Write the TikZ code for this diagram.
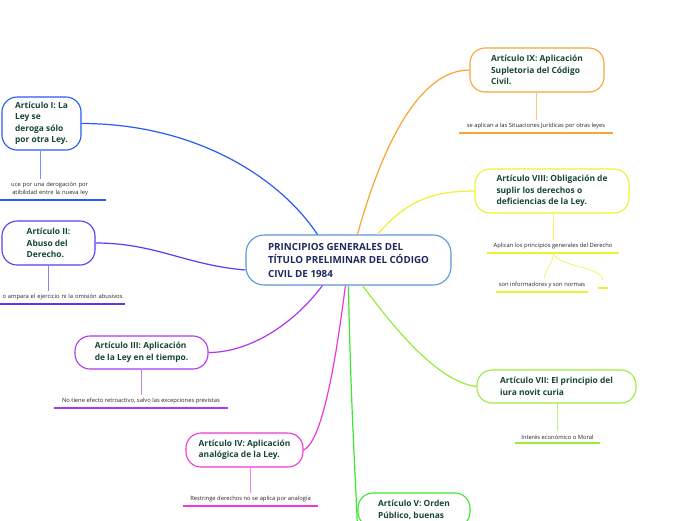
\documentclass[tikz,border=0pt]{standalone}
\usepackage{fontspec}
\setmainfont{Open Sans}
\usepackage{xcolor}
\usepackage{tikz}

\definecolor{titletxt}{RGB}{24,70,52}
\definecolor{maintxt}{RGB}{30,42,92}
\definecolor{cmain}{RGB}{90,150,215}
\definecolor{cone}{RGB}{40,90,245}
\definecolor{ctwo}{RGB}{90,60,240}
\definecolor{cthree}{RGB}{175,55,240}
\definecolor{cfour}{RGB}{240,55,215}
\definecolor{cfive}{RGB}{60,230,50}
\definecolor{cseven}{RGB}{155,235,60}
\definecolor{ceight}{RGB}{240,240,50}
\definecolor{cnine}{RGB}{250,165,50}

\begin{document}
\begin{tikzpicture}[x=1pt,y=1pt,yscale=-1,
    topic/.style={draw=#1, line width=1.1pt, rounded corners=15pt, fill=white, align=left, inner sep=2pt, text=titletxt, font=\fontsize{8.4}{11.5}\selectfont\bfseries},
    conn/.style={draw=#1, line width=1.2pt},
    leaf/.style={inner xsep=3pt, inner ysep=3.5pt, align=center, text=black!85, font=\fontsize{5.8}{8}\selectfont},
    stem/.style={draw=#1, line width=0.7pt},
    uline/.style={draw=#1, line width=1.4pt}]
        \useasboundingbox[fill=white] (0,0) rectangle (696,520);

        % Main topic
        \node [topic=cmain, text=maintxt, rounded corners=18pt, minimum width=205pt, minimum height=50pt, font=\fontsize{9.8}{13.5}\selectfont\bfseries] (main) at (348.5,260) {PRINCIPIOS GENERALES DEL\\TÍTULO PRELIMINAR DEL CÓDIGO\\CIVIL DE 1984};

        % Left topics
        \node [topic=cone, minimum width=79pt, minimum height=53pt] (art1) at (41.5,123.5) {Artículo I: La\\Ley se\\deroga sólo\\por otra Ley.};
        \node [topic=ctwo, minimum width=93pt, minimum height=44pt] (art2) at (48.5,243) {Artículo II:\\Abuso del\\Derecho.};
        \node [topic=cthree, minimum width=133pt, minimum height=33pt] (art3) at (141.5,352.5) {Artículo III: Aplicación\\de la Ley en el tiempo.};
        \node [topic=cfour, minimum width=117pt, minimum height=34pt] (art4) at (244.5,450) {Artículo IV: Aplicación\\analógica de la Ley.};
        % Right topics
        \node [topic=cfive, minimum width=112pt, minimum height=34pt] (art5) at (414,510) {Artículo V: Orden\\Público, buenas};
        \node [topic=cseven, minimum width=159pt, minimum height=33pt] (art7) at (556.5,386.5) {Artículo VII: El principio del\\iura novit curia};
        \node [topic=ceight, minimum width=154pt, minimum height=44pt] (art8) at (552,191) {Artículo VIII: Obligación de\\suplir los derechos o\\deficiencias de la Ley.};
        \node [topic=cnine, minimum width=134pt, minimum height=44pt] (art9) at (537,70) {Artículo IX: Aplicación\\Supletoria del Código\\Civil.};

        % Connectors
        \draw [conn=cone] (art1.east) .. controls +(110,0) and +(-40,-60) .. ([xshift=72pt]main.north west);
        \draw [conn=ctwo] (art2.east) .. controls +(60,0) and +(-60,-5) .. ([yshift=10pt]main.west);
        \draw [conn=cthree] (art3.east) .. controls +(40,0) and +(-30,40) .. ([xshift=77pt]main.south west);
        \draw [conn=cfour] (art4.east) .. controls +(22,-10) and +(-6,45) .. ([xshift=100pt]main.south west);
        \draw [conn=cfive] ([xshift=103pt]main.south west) .. controls +(2,110) and +(-2,-50) .. (art5.south west);
        \draw [conn=cseven] ([xshift=117pt]main.south west) .. controls +(30,40) and +(-40,-5) .. (art7.west);
        \draw [conn=ceight] ([xshift=132pt]main.north west) .. controls +(30,-35) and +(-40,0) .. (art8.west);
        \draw [conn=cnine] ([xshift=112pt]main.north west) .. controls +(25,-90) and +(-50,0) .. (art9.west);

        % Text Nodes (subtopics)
        \node [leaf, align=right, inner xsep=18pt, text width=96pt, anchor=south] (l1) at (40,200) {uce por una derogación por\\atibilidad entre la nueva ley};
        \node [leaf, align=right, inner xsep=1pt, text width=152pt, anchor=south] (l2) at (48,304) {o ampara el ejercicio ni la omisión abusivos.};
        \node [leaf, minimum width=174pt, anchor=south] (l3) at (141,408) {No tiene efecto retroactivo, salvo las excepciones previstas};
        \node [leaf, minimum width=135pt, anchor=south] (l4) at (250.5,506) {Restringe derechos no se aplica por analogía};
        \node [leaf, minimum width=85pt, anchor=south] (l7) at (557.5,443) {Interés económico o Moral};
        \node [leaf, minimum width=132pt, anchor=south] (l8) at (553,253) {Aplican los principios generales del Derecho};
        \node [leaf, minimum width=92pt, anchor=south] (l8a) at (542,292) {son informadores y son normas};
        \node [leaf, minimum width=10pt, anchor=south] (l8b) at (603,288) {};
        \node [leaf, minimum width=154pt, anchor=south] (l9) at (536,133) {se aplican a las Situaciones Jurídicas por otras leyes};

        % Stems
        \draw [stem=cone!65] (art1.south -| l1.north) -- (l1.north);
        \draw [stem=ctwo!65] (art2.south -| l2.north) -- (l2.north);
        \draw [stem=cthree!65] (art3.south -| l3.north) -- (l3.north);
        \draw [stem=cfour!65] (art4.south -| l4.north) -- (l4.north);
        \draw [stem=cseven!65] (art7.south -| l7.north) -- (l7.north);
        \draw [stem=ceight!80] (art8.south -| l8.north) -- (l8.north);
        \draw [stem=ceight!80] (l8.south) .. controls +(0,12) and +(2,-12) .. ([xshift=2pt]l8a.north);
        \draw [stem=ceight!80] (l8.south) .. controls +(5,14) and +(0,-14) .. (l8b.north);
        \draw [stem=cnine!65] (art9.south -| l9.north) -- (l9.north);

        % Underlines
        \draw [uline=cone] (l1.south west) -- (l1.south east);
        \draw [uline=ctwo] (l2.south west) -- (l2.south east);
        \draw [uline=cthree] (l3.south west) -- (l3.south east);
        \draw [uline=cfour] (l4.south west) -- (l4.south east);
        \draw [uline=cseven] (l7.south west) -- (l7.south east);
        \draw [uline=ceight] (l8.south west) -- (l8.south east);
        \draw [uline=ceight] (l8a.south west) -- (l8a.south east);
        \draw [uline=ceight] (l8b.south west) -- (l8b.south east);
        \draw [uline=cnine] (l9.south west) -- (l9.south east);

\end{tikzpicture}
\end{document}
